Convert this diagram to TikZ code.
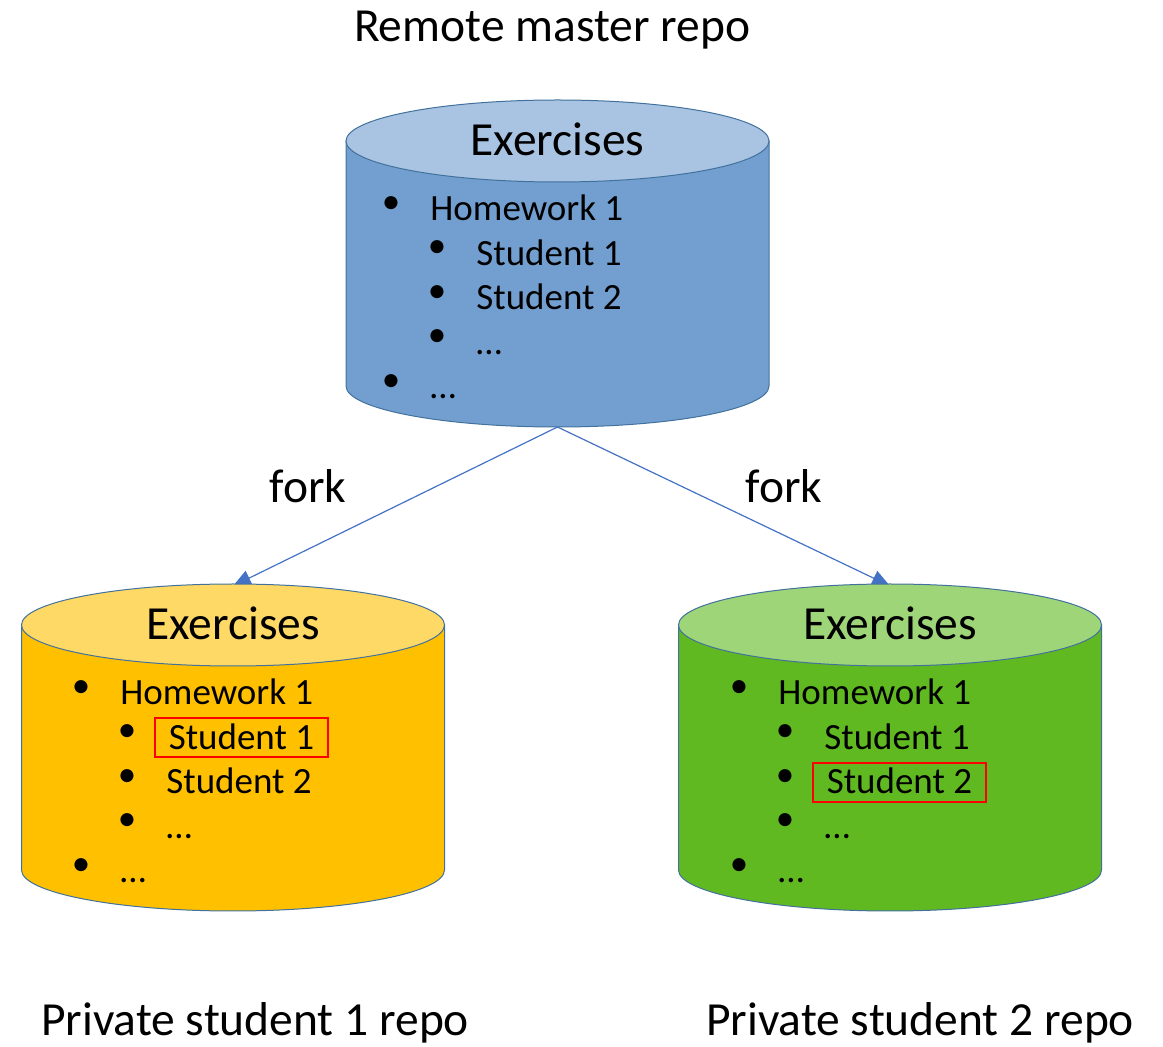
\documentclass[tikz,border=0pt]{standalone}
\usepackage{fontspec}
\setmainfont{Carlito}
\usepackage{tikz}
\usetikzlibrary{arrows.meta, backgrounds}
\definecolor{edgeblue}{RGB}{65,113,156}
\definecolor{arrowblue}{RGB}{68,114,196}
\definecolor{masterbody}{RGB}{114,159,207}
\definecolor{mastertop}{RGB}{169,196,227}
\definecolor{onebody}{RGB}{255,192,0}
\definecolor{onetop}{RGB}{255,217,102}
\definecolor{twobody}{RGB}{96,185,32}
\definecolor{twotop}{RGB}{158,213,120}

% one repository drawn as a cylinder, origin at the centre of its lid
\tikzset{
  pics/repo/.style 2 args={code={
    \path[fill=#1, draw=edgeblue, line width=0.5pt]
      (-211.5,0) -- (-211.5,245) arc[start angle=180, end angle=0, x radius=211.5, y radius=41]
      -- (211.5,0) -- cycle;
    \path[fill=#2, draw=edgeblue, line width=0.5pt] (0,0) ellipse[x radius=211.5, y radius=41];
    \coordinate (-tip) at (0,-39);
    \coordinate (-foot) at (0,286);
    \node[bigtext] (-title) at (0,-2) {Exercises};
  }},
}

% the bullet list inside a repository
\newcommand{\hwlist}[5]{%
  \node[bul] (#1-b1) at (#2-39,#3-16) {\textbullet};
  \node[item] (#1-hw) at (#2,#3) {Homework 1};
  \node[bul] (#1-b2) at (#2+7,#3+28.5) {\textbullet};
  \node[item,#4] (#1-s1) at (#2+46,#3+44.5) {Student 1};
  \node[bul] (#1-b3) at (#2+7,#3+73) {\textbullet};
  \node[item,#5] (#1-s2) at (#2+46,#3+89) {Student 2};
  \node[bul] (#1-b4) at (#2+7,#3+117.5) {\textbullet};
  \node[item] (#1-s3) at (#2+46,#3+133.5) {…};
  \node[bul] (#1-b5) at (#2-39,#3+162) {\textbullet};
  \node[item] (#1-more) at (#2,#3+178) {…};
}

\begin{document}
\begin{tikzpicture}[
  x=0.5pt, y=-0.5pt,
  bigtext/.style={font=\fontsize{23.75}{28}\selectfont, inner sep=0},
  item/.style={font=\fontsize{18.5}{22}\selectfont, anchor=base west, inner sep=0},
  bul/.style={font=\fontsize{18.5}{22}\selectfont, inner sep=0},
  picked/.style={draw=red, line width=1pt, inner xsep=6.9pt, inner ysep=2.5pt,
                 text height=13pt, text depth=1.5pt, xshift=-6pt},
  fork/.style={-{Triangle[length=9pt, width=8pt]}, arrowblue, line width=0.6pt},
]
\useasboundingbox (0,0) rectangle (1163,1047);

% Repositories
\pic (master) at (557.5,141) {repo={masterbody}{mastertop}};
\pic (one) at (233,625) {repo={onebody}{onetop}};
\pic (two) at (890,625) {repo={twobody}{twotop}};

\hwlist{master}{430}{221}{}{}
\hwlist{one}{120}{705}{picked}{}
\hwlist{two}{778}{705}{}{picked}

% Labels
\node[bigtext, anchor=base] (mastername) at (552,42) {Remote master repo};
\node[bigtext, anchor=base] (onename) at (255,1035) {Private student 1 repo};
\node[bigtext, anchor=base] (twoname) at (920,1035) {Private student 2 repo};
\node[bigtext, anchor=base] (forkone) at (308,503) {fork};
\node[bigtext, anchor=base] (forktwo) at (784,503) {fork};

% Forks
\begin{scope}[on background layer]
\draw[fork] (master-foot) -- (one-tip);
\draw[fork] (master-foot) -- (two-tip);
\end{scope}

\end{tikzpicture}
\end{document}
